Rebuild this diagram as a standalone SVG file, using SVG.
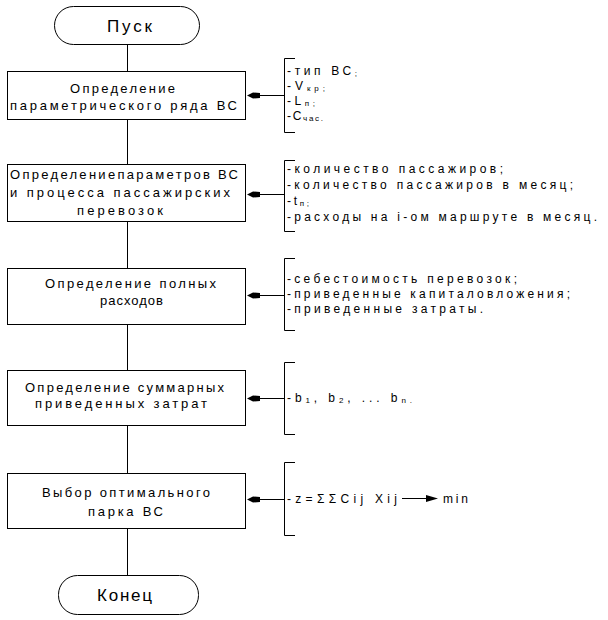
<svg xmlns="http://www.w3.org/2000/svg" width="608" height="620" viewBox="0 0 608 620">
<style>
  .shape { fill: #fff; stroke: #000; stroke-width: 1; }
  .line { fill: none; stroke: #000; stroke-width: 1; }
  .head { fill: #000; stroke: none; }
  text { font-family: "Liberation Sans", Arial, sans-serif; fill: #000; }
  .bt { font-size: 13px; }
  .rt { font-size: 12px; }
  .term { font-size: 17px; }
  .sub { font-size: 8px; }
</style>
<defs>
  <path id="ah" d="M0,0 L6,-3 L13,-2.5 L13,2.5 L6,3 Z"/>
</defs>
<rect width="608" height="620" fill="#fff"/>

<g id="connectors">
  <path class="line" d="M127.5,45 V71.5 M127.5,119.5 V164.5 M127.5,221.5 V268.5 M127.5,324.5 V370.5 M127.5,425.5 V473.5 M127.5,528.5 V575.5"/>
  <path class="line" d="M295,58.5 H284.5 V132.5 H295"/>
  <path class="line" d="M295,160.5 H284.5 V231.5 H295"/>
  <path class="line" d="M295,258.5 H284.5 V330.5 H295"/>
  <path class="line" d="M295,362.5 H284.5 V434.5 H295"/>
  <path class="line" d="M295,462.5 H284.5 V535.5 H295"/>
  <path class="line" d="M284.5,95.5 H258 M284.5,194.5 H258 M284.5,295.5 H258 M284.5,398.5 H258 M284.5,499.5 H258"/>
  <use href="#ah" class="head" x="247" y="95.5"/>
  <use href="#ah" class="head" x="247" y="194.5"/>
  <use href="#ah" class="head" x="247" y="295.5"/>
  <use href="#ah" class="head" x="247" y="398.5"/>
  <use href="#ah" class="head" x="247" y="499.5"/>
  <path class="line" d="M402,498.5 H428"/>
  <path class="head" d="M438,498.5 L426,495 L426,502 Z"/>
</g>

<g id="start">
  <rect class="shape" x="54.5" y="6.5" width="145" height="38" rx="19"/>
  <text class="term" x="107" y="32" textLength="45" lengthAdjust="spacing">Пуск</text>
</g>

<g id="box1">
  <rect class="shape" x="7.5" y="71.5" width="238" height="48"/>
  <text class="bt" x="70" y="93" textLength="105" lengthAdjust="spacing">Определение</text>
  <text class="bt" x="10" y="110" textLength="227" lengthAdjust="spacing">параметрического ряда ВС</text>
</g>

<g id="box2">
  <rect class="shape" x="7.5" y="164.5" width="238" height="57"/>
  <text class="bt" x="10" y="179" textLength="228" lengthAdjust="spacing">Определениепараметров ВС</text>
  <text class="bt" x="10" y="197" textLength="220" lengthAdjust="spacing">и процесса пассажирских</text>
  <text class="bt" x="77" y="215" textLength="86" lengthAdjust="spacing">перевозок</text>
</g>

<g id="box3">
  <rect class="shape" x="7.5" y="268.5" width="238" height="56"/>
  <text class="bt" x="45" y="288" textLength="171" lengthAdjust="spacing">Определение полных</text>
  <text class="bt" x="100" y="305" textLength="63" lengthAdjust="spacing">расходов</text>
</g>

<g id="box4">
  <rect class="shape" x="7.5" y="370.5" width="238" height="55"/>
  <text class="bt" x="25" y="392" textLength="199" lengthAdjust="spacing">Определение суммарных</text>
  <text class="bt" x="35" y="408" textLength="172" lengthAdjust="spacing">приведенных затрат</text>
</g>

<g id="box5">
  <rect class="shape" x="7.5" y="473.5" width="238" height="55"/>
  <text class="bt" x="42" y="497" textLength="168" lengthAdjust="spacing">Выбор оптимального</text>
  <text class="bt" x="88" y="516" textLength="75" lengthAdjust="spacing">парка ВС</text>
</g>

<g id="end">
  <rect class="shape" x="58.5" y="575.5" width="140" height="39" rx="19"/>
  <text class="term" x="97" y="601" textLength="55" lengthAdjust="spacing">Конец</text>
</g>

<g id="notes1">
  <text class="rt" x="287" y="75" textLength="70" lengthAdjust="spacing">-тип ВС<tspan class="sub" dy="1">;</tspan></text>
  <text class="rt" x="287" y="90" textLength="38" lengthAdjust="spacing">-V<tspan class="sub" dy="1">кр;</tspan></text>
  <text class="rt" x="287" y="105" textLength="28" lengthAdjust="spacing">-L<tspan class="sub" dy="1">п;</tspan></text>
  <text class="rt" x="287" y="120" textLength="36" lengthAdjust="spacing">-С<tspan class="sub" dy="1">час.</tspan></text>
</g>

<g id="notes2">
  <text class="rt" x="287" y="173" textLength="216" lengthAdjust="spacing">-количество пассажиров;</text>
  <text class="rt" x="287" y="189" textLength="286" lengthAdjust="spacing">-количество пассажиров в месяц;</text>
  <text class="rt" x="287" y="205" textLength="22" lengthAdjust="spacing">-t<tspan class="sub" dy="1">п;</tspan></text>
  <text class="rt" x="287" y="221" textLength="310" lengthAdjust="spacing">-расходы на i-ом маршруте в месяц.</text>
</g>

<g id="notes3">
  <text class="rt" x="287" y="283" textLength="230" lengthAdjust="spacing">-себестоимость перевозок;</text>
  <text class="rt" x="287" y="298" textLength="283" lengthAdjust="spacing">-приведенные капиталовложения;</text>
  <text class="rt" x="287" y="313" textLength="196" lengthAdjust="spacing">-приведенные затраты.</text>
</g>

<g id="notes4">
  <text class="rt" x="287" y="402" textLength="125" lengthAdjust="spacing">-b<tspan class="sub" dy="1">1</tspan><tspan dy="-1">, b</tspan><tspan class="sub" dy="1">2</tspan><tspan dy="-1">, ... b</tspan><tspan class="sub" dy="1">n.</tspan></text>
</g>

<g id="notes5">
  <text class="rt" x="287" y="503" textLength="110" lengthAdjust="spacing">-z=ΣΣCij Xij</text>
  <text class="rt" x="443" y="503" textLength="25" lengthAdjust="spacing">min</text>
</g>
</svg>
